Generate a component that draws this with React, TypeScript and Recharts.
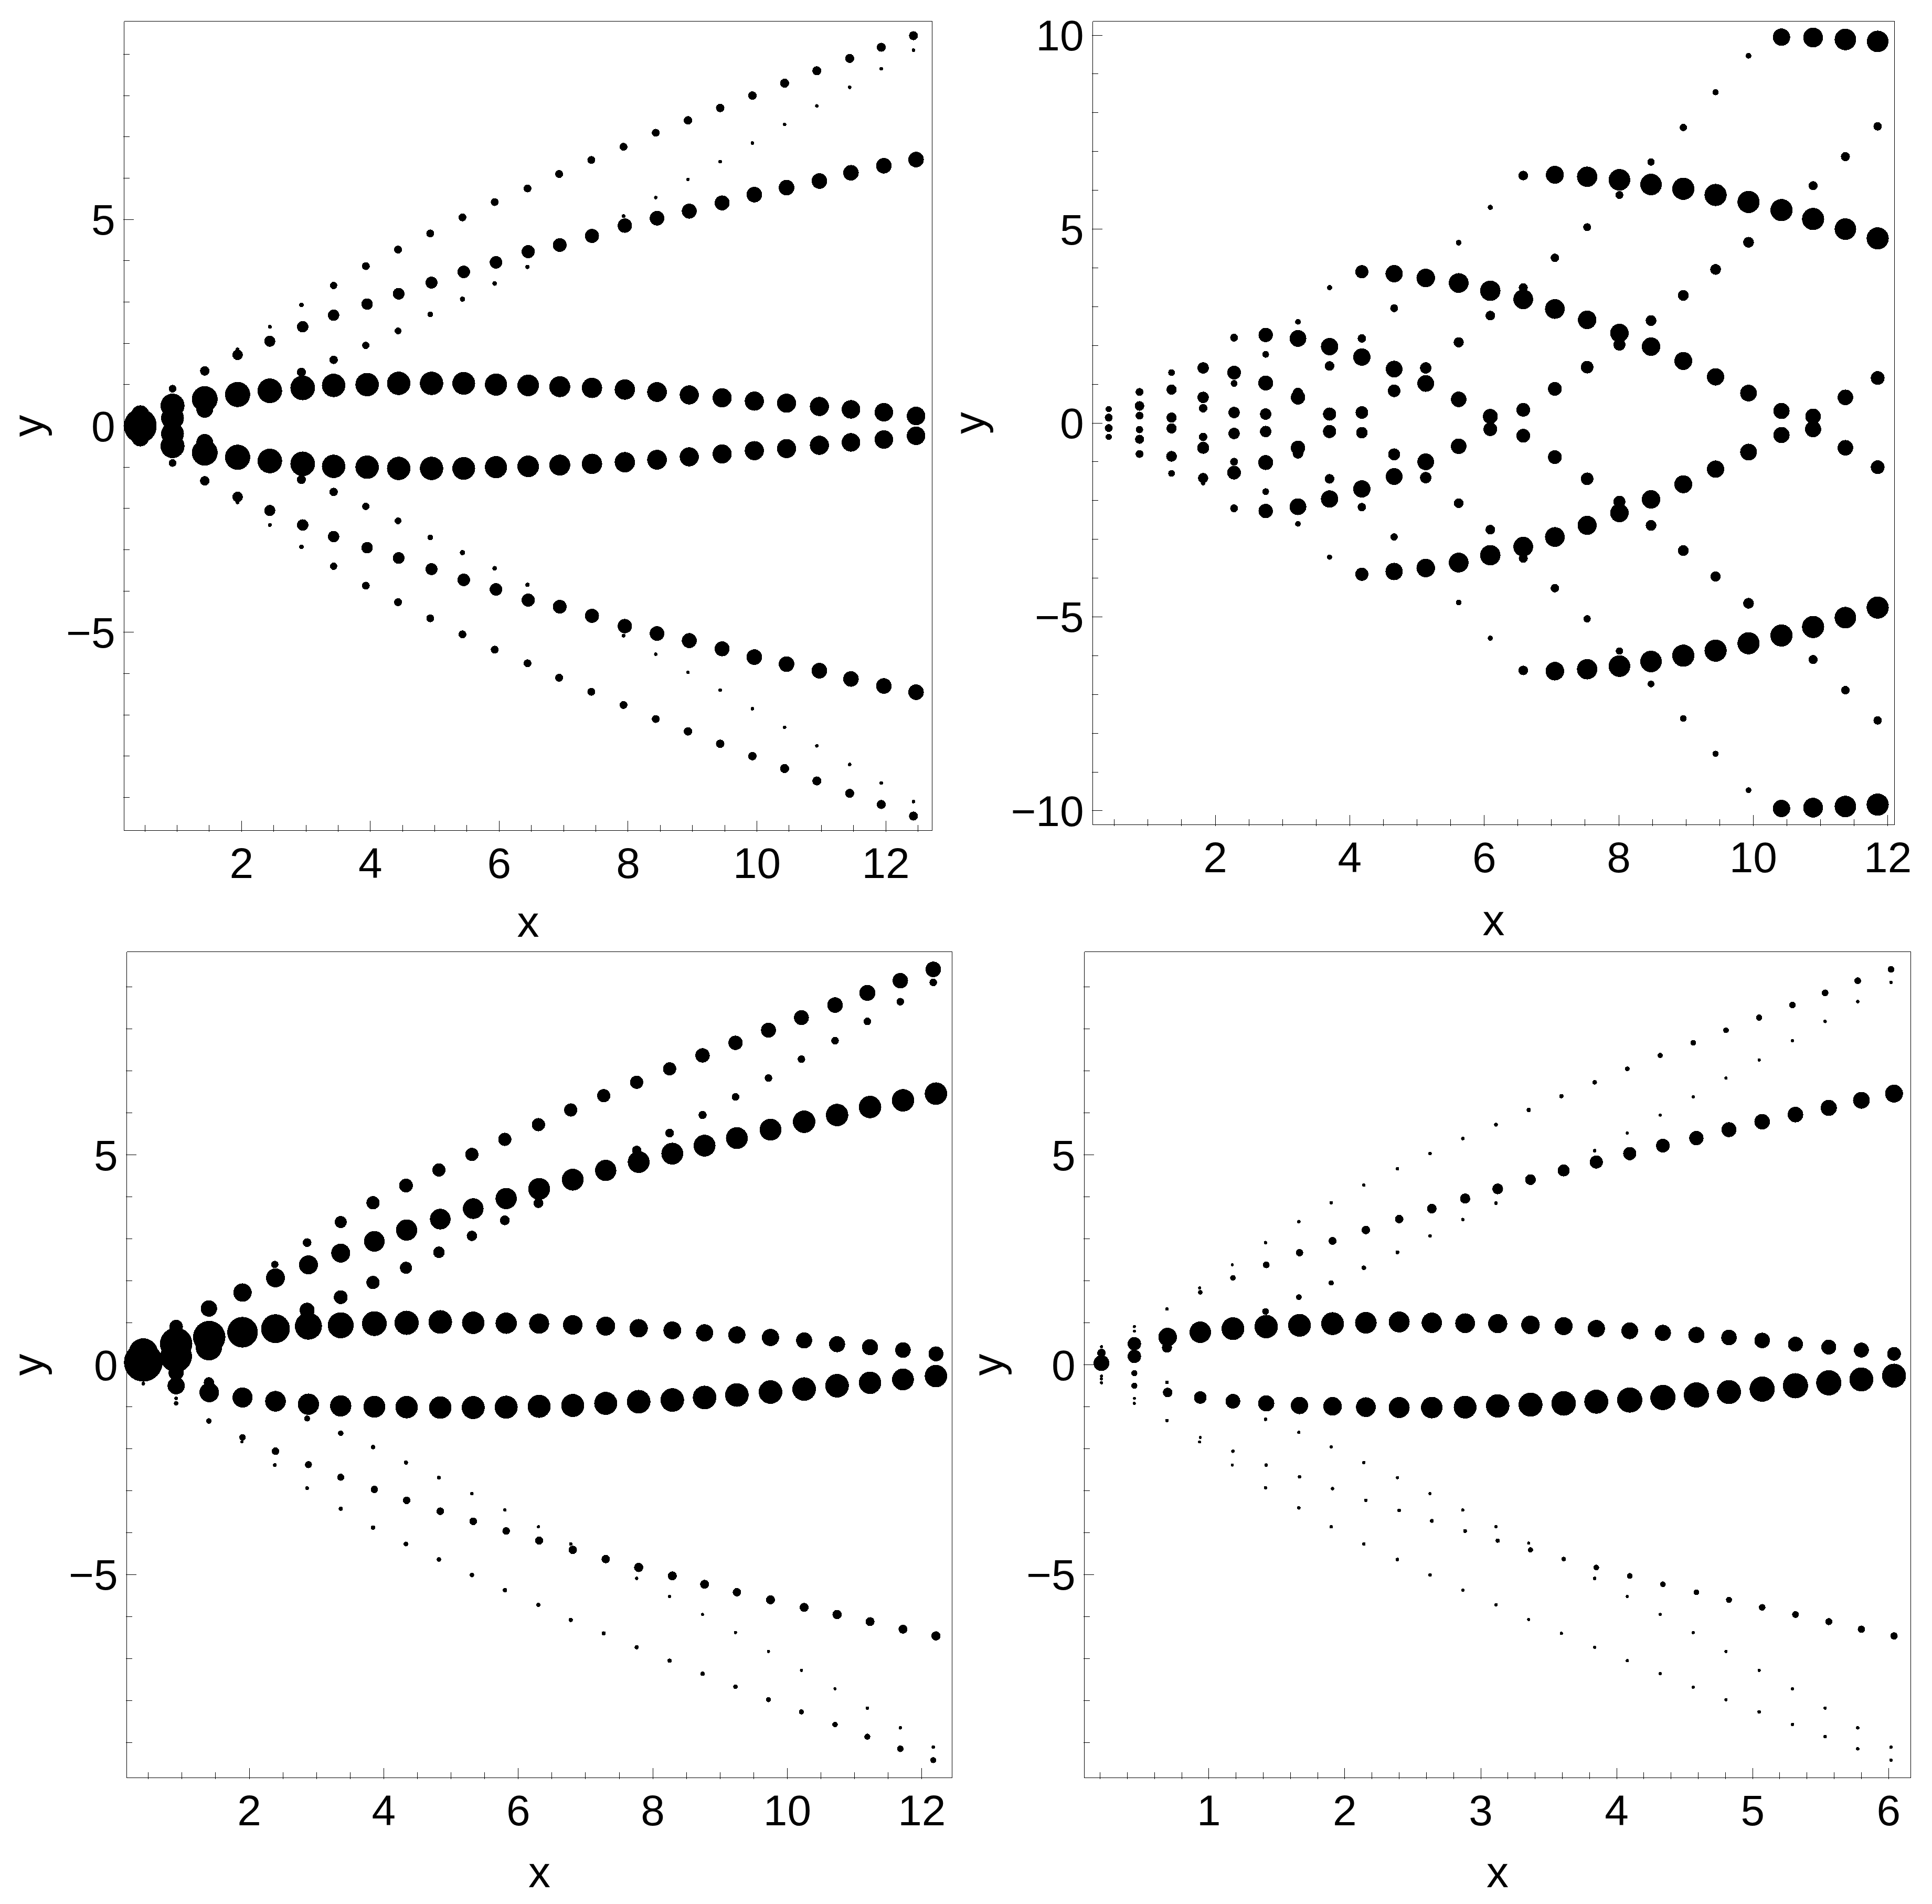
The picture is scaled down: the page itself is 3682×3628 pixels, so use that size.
import { ScatterChart, Scatter, XAxis, YAxis, ZAxis, Label } from "recharts";

type Num = number | null;
type Point = { x: number; y: number; z: number };

const FONT = "Liberation Sans, Arial, sans-serif";
const INK = "#000";

// ---- tick lists ----
const xTicksHalf = [0.5, 1, 1.5, 2, 2.5, 3, 3.5, 4, 4.5, 5, 5.5, 6, 6.5, 7, 7.5, 8, 8.5, 9, 9.5, 10, 10.5, 11, 11.5, 12, 12.5];
const xTicksFifth = [0.2, 0.4, 0.6, 0.8, 1, 1.2, 1.4, 1.6, 1.8, 2, 2.2, 2.4, 2.6, 2.8, 3, 3.2, 3.4, 3.6, 3.8, 4, 4.2, 4.4, 4.6, 4.8, 5, 5.2, 5.4, 5.6, 5.8, 6];
const xLabelsEven = [2, 4, 6, 8, 10, 12];
const xLabelsWhole = [1, 2, 3, 4, 5, 6];
const yTicks9 = [-9, -8, -7, -6, -5, -4, -3, -2, -1, 0, 1, 2, 3, 4, 5, 6, 7, 8, 9];
const yTicks10 = [-10, -9, -8, -7, -6, -5, -4, -3, -2, -1, 0, 1, 2, 3, 4, 5, 6, 7, 8, 9, 10];
const yLabels5 = [-5, 0, 5];
const yLabels10 = [-10, -5, 0, 5, 10];

// ---- panel 1 (top left) ----
const p1XInner = [0.43, 0.93, 1.43, 1.94, 2.44, 2.95, 3.43, 3.95, 4.44, 4.95, 5.45, 5.95, 6.45, 6.94, 7.44, 7.95, 8.45, 8.95, 9.46, 9.96, 10.46, 10.97, 11.46, 11.97, 12.47];
const p1XOuter = [0.43, 0.93, 1.43, 1.94, 2.44, 2.93, 3.43, 3.93, 4.43, 4.93, 5.43, 5.93, 6.44, 6.93, 7.43, 7.93, 8.43, 8.93, 9.43, 9.93, 10.43, 10.93, 11.44, 11.93, 12.43];
const p1CoreUp = [0.02, 0.49, 0.65, 0.76, 0.85, 0.92, 0.98, 1.0, 1.03, 1.03, 1.03, 1.0, 0.98, 0.95, 0.92, 0.88, 0.82, 0.75, 0.68, 0.6, 0.55, 0.47, 0.4, 0.33, 0.24];
const p1CoreLow = [-0.02, -0.49, -0.65, -0.76, -0.85, -0.92, -0.98, -1.0, -1.03, -1.03, -1.03, -1.0, -0.98, -0.95, -0.92, -0.88, -0.82, -0.75, -0.68, -0.6, -0.55, -0.47, -0.4, -0.33, -0.24];
const p1CoreAmp = [53, 39, 42, 41, 40, 40, 38, 38, 38, 38, 37, 36, 35, 34, 33, 33, 32, 31, 31, 31, 31, 31, 30, 30, 30];
const p1MidUp = [null, null, null, 1.72, 2.05, 2.4, 2.68, 2.95, 3.2, 3.47, 3.73, 3.96, 4.22, 4.38, 4.6, 4.85, 5.03, 5.2, 5.4, 5.6, 5.77, 5.93, 6.13, 6.3, 6.45];
const p1MidLow = [null, null, null, -1.72, -2.05, -2.4, -2.68, -2.95, -3.2, -3.47, -3.73, -3.96, -4.22, -4.38, -4.6, -4.85, -5.03, -5.2, -5.4, -5.6, -5.77, -5.93, -6.13, -6.3, -6.45];
const p1MidAmp = [null, null, null, 16.5, 17.5, 18, 18, 18, 18.5, 19, 20, 20, 21, 22, 22.5, 23, 23.5, 24, 24, 25, 25, 25, 25, 25, 25];
const p1RiseUp = [0.28, 0.19, 0.4, null, null, 1.3, 1.6, 1.95, 2.3, 2.7, 3.07, 3.45, 3.85, 4.3, null, 5.08, 5.53, 5.97, 6.4, 6.85, 7.3, 7.75, 8.2, 8.65, 9.1];
const p1RiseLow = [-0.28, -0.19, -0.4, null, null, -1.3, -1.6, -1.95, -2.3, -2.7, -3.07, -3.45, -3.85, -4.3, null, -5.08, -5.53, -5.97, -6.4, -6.85, -7.3, -7.75, -8.2, -8.65, -9.1];
const p1RiseAmp = [29, 37, 27, null, null, 14, 13, 11, 10, 8, 7, 6, 5, 4, null, 4, 3, 3, 3, 3, 3, 3, 3, 3, 3];
const p1EdgeUp = [null, 0.9, 1.33, 1.85, 2.4, 2.93, 3.4, 3.87, 4.27, 4.66, 5.05, 5.42, 5.75, 6.1, 6.44, 6.76, 7.1, 7.4, 7.7, 8, 8.3, 8.6, 8.9, 9.17, 9.45];
const p1EdgeLow = [null, -0.9, -1.33, -1.85, -2.4, -2.93, -3.4, -3.87, -4.27, -4.66, -5.05, -5.42, -5.75, -6.1, -6.44, -6.76, -7.1, -7.4, -7.7, -8, -8.3, -8.6, -8.9, -9.17, -9.45];
const p1EdgeAmp = [null, 11.6, 14.7, 4, 4, 6, 11, 12, 12, 12, 12, 12, 12, 12, 12, 12, 12, 13, 13, 13, 14, 14, 14, 14, 14];

// ---- panel 2 (top right), one line per column, top to bottom ----
const p2X = [0.416, 0.874, 1.35, 1.82, 2.28, 2.75, 3.23, 3.7, 4.18, 4.66, 5.13, 5.62, 6.09, 6.58, 7.05, 7.53, 8.01, 8.48, 8.96, 9.44, 9.93, 10.42, 10.89, 11.37, 11.85];
const p2Y: number[][] = [
  [0.36, 0.14, -0.13, -0.36],
  [0.8, 0.44, 0.19, -0.17, -0.42, -0.8],
  [1.3, 0.86, 0.14, -0.14, -0.86, -1.3],
  [1.5, 1.42, 0.66, 0.38, -0.36, -0.64, -1.42, -1.55],
  [2.2, 1.3, 1.02, 0.27, -0.27, -1.0, -1.28, -2.2],
  [2.27, 1.77, 1.03, 0.23, -0.22, -1.02, -1.77, -2.27],
  [2.61, 2.18, 0.77, 0.66, -0.64, -0.78, -2.16, -2.6],
  [3.49, 1.97, 1.47, 0.23, -0.22, -1.44, -1.96, -3.46],
  [3.9, 2.18, 1.7, 0.27, -0.25, -1.7, -2.17, -3.9],
  [3.85, 2.96, 1.39, 0.83, -0.81, -1.38, -2.94, -3.83],
  [3.74, 1.42, 1.02, -1.0, -1.41, -3.74],
  [4.65, 3.61, 2.08, 0.61, -0.6, -2.07, -3.6, -4.63],
  [5.56, 3.41, 2.77, 0.17, -0.16, -2.75, -3.41, -5.55],
  [6.38, 3.49, 3.19, 0.34, -0.33, -3.19, -3.49, -6.38],
  [6.4, 4.26, 2.94, 0.88, -0.88, -2.94, -4.26, -6.4],
  [6.35, 5.05, 2.66, 1.44, -1.44, -2.64, -5.05, -6.35],
  [6.27, 5.88, 2.32, 2.02, -2.03, -2.32, -5.88, -6.27],
  [6.73, 6.15, 2.64, 1.97, -1.97, -2.64, -6.15, -6.73],
  [7.62, 6.04, 3.29, 1.6, -1.58, -3.29, -6.0, -7.62],
  [8.53, 5.88, 3.96, 1.19, -1.19, -3.96, -5.87, -8.53],
  [9.47, 5.7, 4.66, 0.77, -0.75, -4.65, -5.68, -9.47],
  [9.95, 5.49, 0.31, -0.31, -5.48, -9.94],
  [9.94, 6.12, 5.26, 0.17, -0.16, -5.26, -6.1, -9.92],
  [9.89, 6.87, 5.0, 0.66, -0.64, -5.02, -6.89, -9.89],
  [9.84, 7.65, 4.76, 1.16, -1.14, -4.76, -7.67, -9.84],
];
const p2Amp: number[][] = [
  [9, 12, 12, 9],
  [12, 15, 12, 11, 14, 12],
  [10, 16, 16, 16, 17, 10],
  [6, 18, 18, 13, 13, 19, 16, 6],
  [12, 22, 10, 18, 18, 12, 22, 12],
  [23, 10, 24, 18, 18, 24, 10, 23],
  [8, 27, 17, 23, 23, 17, 27, 8],
  [7, 28, 15, 21, 21, 15, 28, 7],
  [21, 13, 28, 20, 18, 28, 13, 21],
  [28, 12, 27, 20, 19, 27, 11, 28],
  [30, 18, 27, 27, 18, 30],
  [8, 32, 16, 25, 25, 15, 32, 8],
  [7, 33, 15, 24, 22, 15, 33, 7],
  [15, 14, 32, 22, 22, 32, 14, 15],
  [29, 13, 32, 22, 22, 32, 13, 30],
  [33, 12, 30, 20, 20, 31, 11, 33],
  [35, 12, 30, 19, 19, 30, 11, 35],
  [11, 35, 17, 30, 30, 17, 35, 10],
  [11, 36, 17, 29, 29, 17, 36, 10],
  [9, 36, 17, 28, 28, 16, 36, 9],
  [8, 36, 17, 27, 27, 17, 36, 8],
  [28, 36, 26, 26, 36, 28],
  [32, 14, 36, 25, 26, 36, 14, 32],
  [35, 14, 35, 25, 25, 35, 13, 35],
  [35, 13, 36, 22, 22, 36, 13, 36],
];

// ---- panel 3 (bottom left) ----
const p3XInner = [0.425, 0.913, 1.405, 1.9, 2.39, 2.88, 3.36, 3.86, 4.34, 4.84, 5.33, 5.82, 6.31, 6.81, 7.3, 7.79, 8.29, 8.77, 9.25, 9.75, 10.25, 10.74, 11.23, 11.72, 12.21];
const p3XOuter = [0.425, 0.913, 1.4, 1.89, 2.38, 2.86, 3.36, 3.84, 4.33, 4.82, 5.31, 5.8, 6.3, 6.78, 7.27, 7.76, 8.25, 8.74, 9.23, 9.72, 10.21, 10.71, 11.19, 11.68, 12.17];
const p3CoreUp = [0.06, 0.5, 0.66, 0.775, 0.86, 0.92, 0.94, 0.98, 1.0, 1.02, 1.0, 0.99, 0.98, 0.95, 0.92, 0.87, 0.82, 0.76, 0.71, 0.65, 0.58, 0.49, 0.42, 0.35, 0.26];
const p3CoreUpAmp = [66, 55, 55, 52, 49, 46, 44, 42, 41, 40, 38, 36, 34, 33, 32, 31, 30, 29, 29, 29, 27, 27, 27, 26, 25];
const p3CoreLow = [null, -0.5, -0.66, -0.78, -0.87, -0.94, -0.98, -1.0, -1.01, -1.02, -1.02, -1.01, -0.99, -0.97, -0.92, -0.88, -0.84, -0.78, -0.72, -0.65, -0.58, -0.5, -0.43, -0.35, -0.27];
const p3CoreLowAmp = [null, 29, 33, 34, 35, 36, 36, 37, 38, 38, 39, 39, 39, 39, 39, 40, 40, 40, 40, 40, 40, 40, 38, 37, 38];
const p3MidUp = [null, null, null, 1.72, 2.07, 2.38, 2.66, 2.94, 3.21, 3.47, 3.72, 3.96, 4.19, 4.41, 4.63, 4.83, 5.03, 5.22, 5.4, 5.6, 5.79, 5.95, 6.14, 6.3, 6.46];
const p3MidUpAmp = [null, null, null, 31, 32, 32, 32, 35, 36, 35, 35, 36, 37, 37, 36, 37, 37, 37, 37, 37, 38, 38, 38, 38, 38];
const p3MidLow = [null, -0.8, null, -1.73, -2.06, -2.38, -2.68, -2.97, -3.23, -3.49, -3.73, -3.96, -4.19, -4.41, -4.63, -4.83, -5.03, -5.23, -5.42, -5.6, -5.78, -5.95, -6.12, -6.3, -6.46];
const p3MidLowAmp = [null, 3.3, null, 10, 12, 11, 11, 11.5, 12, 12, 12, 12, 13, 13.5, 13.5, 15, 14.5, 14.5, 13.5, 14.5, 14.5, 15, 14.5, 14.5, 15];
const p3RiseUp = [0.28, 0.2, 0.42, null, null, 1.3, 1.61, 1.96, 2.31, 2.68, 3.07, 3.44, 3.85, null, null, 5.11, 5.52, 5.95, 6.38, 6.83, 7.28, 7.72, 8.18, 8.65, 9.11];
const p3RiseUpAmp = [50, 54, 45, null, null, 25, 23, 22, 20, 19, 17, 16, 16, null, null, 15, 14, 13, 12, 12, 12, 12, 12, 12, 12];
const p3RiseLow = [null, -0.19, -0.42, null, null, -1.28, -1.63, -1.96, -2.33, -2.69, -3.07, -3.46, -3.86, -4.27, null, -5.09, -5.52, -5.95, -6.38, -6.83, -7.28, -7.72, -8.18, -8.65, -9.11];
const p3RiseLowAmp = [null, 25.5, 17, null, null, 9, 8, 6, 5, 4, 3, 3, 2, 3, null, 3, 2, 2, 2, 2, 2, 2, 3, 3, 3];
const p3EdgeUp = [null, 0.91, 1.34, 1.83, 2.39, 2.91, 3.4, 3.86, 4.27, 4.64, 5.01, 5.37, 5.72, 6.07, 6.41, 6.73, 7.05, 7.37, 7.67, 7.97, 8.27, 8.57, 8.86, 9.15, 9.42];
const p3EdgeUpAmp = [null, 22.5, 27.5, 8, 11.6, 14, 20, 22, 23, 22, 22, 22, 22, 22, 22, 22, 22, 24, 24, 25, 25, 26, 27, 26, 26];
const p3EdgeLow = [-0.45, -0.92, -1.34, -1.84, -2.39, -2.94, -3.43, -3.88, -4.27, -4.64, -5.01, -5.37, -5.72, -6.08, -6.4, -6.73, -7.05, -7.36, -7.67, -7.98, -8.27, -8.57, -8.86, -9.15, -9.42];
const p3EdgeLowAmp = [3.3, 6.2, 8, 1, 4, 4, 5, 6, 6.5, 6, 6, 6, 5, 5, 5, 5, 5, 6, 6, 7, 7, 8, 9, 10, 9];

// ---- panel 4 (bottom right) ----
const p4XInner = [0.21, 0.452, 0.697, 0.937, 1.177, 1.422, 1.667, 1.91, 2.155, 2.4, 2.64, 2.885, 3.125, 3.366, 3.61, 3.85, 4.096, 4.34, 4.586, 4.826, 5.07, 5.315, 5.56, 5.8, 6.04];
const p4XOuter = [0.21, 0.452, 0.692, 0.932, 1.172, 1.417, 1.662, 1.9, 2.14, 2.387, 2.627, 2.868, 3.112, 3.353, 3.593, 3.838, 4.078, 4.32, 4.563, 4.804, 5.048, 5.293, 5.533, 5.773, 6.018];
const p4CoreUp = [0.04, 0.5, 0.66, 0.775, 0.86, 0.91, 0.94, 0.98, 1.0, 1.02, 1.0, 0.99, 0.98, 0.95, 0.92, 0.86, 0.81, 0.76, 0.71, 0.65, 0.58, 0.49, 0.42, 0.35, 0.26];
const p4CoreUpAmp = [25.5, 21.4, 30, 35, 37, 38, 37, 37, 35, 34, 33, 32, 31, 30, 29, 28, 27, 26, 26, 25, 25, 24, 24, 24, 22];
const p4CoreLow = [-0.27, -0.5, -0.66, -0.78, -0.87, -0.92, -0.97, -0.99, -1.01, -1.02, -1.02, -1.01, -0.98, -0.95, -0.92, -0.88, -0.84, -0.78, -0.72, -0.65, -0.58, -0.5, -0.43, -0.35, -0.26];
const p4CoreLowAmp = [1, 8.7, 15, 20, 23.5, 26, 28, 30, 32, 34, 35, 37, 38, 39, 40, 39, 41, 41, 41, 39, 41, 41, 41, 39, 39];
const p4MidUp = [null, 0.91, null, 1.725, 2.07, 2.38, 2.67, 2.95, 3.21, 3.47, 3.72, 3.96, 4.19, 4.41, 4.63, 4.83, 5.03, 5.22, 5.4, 5.6, 5.79, 5.96, 6.12, 6.3, 6.46];
const p4MidUpAmp = [null, 1, null, 5.6, 8, 10, 11, 12, 13, 13, 15, 16, 17, 17, 19, 21, 21, 22, 23, 24, 25, 25, 26, 27, 29];
const p4MidLow = [null, -0.8, null, -1.73, -2.06, -2.39, -2.67, -2.95, -3.23, -3.47, -3.72, -3.96, -4.19, -4.41, -4.63, -4.83, -5.03, -5.23, -5.42, -5.6, -5.78, -5.95, -6.12, -6.3, -6.46];
const p4MidLowAmp = [null, 1, null, 1, 3, 3, 3, 3, 3, 3, 4, 4, 5, 7, 6, 8, 8, 8, 8, 8.7, 9.8, 10, 10.5, 11, 11];
const p4RiseUp = [0.28, 0.2, 0.41, null, null, 1.27, 1.61, 1.95, 2.31, 2.68, 3.07, 3.46, 3.85, null, null, 5.1, 5.52, 5.95, 6.38, 6.83, 7.26, 7.72, 8.18, 8.65, 9.11];
const p4RiseUpAmp = [13, 21.4, 16, null, null, 10, 8, 7, 6, 4, 3, 3, 3, null, null, 3, 2, 2, 2, 2, 2, 2, 3, 3, 3];
const p4RiseLow = [-0.34, -0.2, -0.42, null, null, -1.3, -1.61, -1.96, -2.33, -2.69, -3.07, -3.46, -3.86, -4.25, null, -5.09, -5.52, -5.95, -6.38, -6.83, -7.28, -7.72, -8.18, -8.65, -9.11];
const p4RiseLowAmp = [1, 8.7, 3.3, null, null, 3, 2, 2, 3, 2, 2, 2, 2, 2, null, 3, 2, 2, 2, 2, 2, 2, 2, 3, 3];
const p4EdgeUp = [0.43, 0.8, 1.33, 1.83, 2.38, 2.91, 3.41, 3.86, 4.28, 4.67, 5.03, 5.39, 5.72, 6.07, 6.4, 6.73, 7.05, 7.37, 7.67, 7.97, 8.27, 8.57, 8.86, 9.15, 9.42];
const p4EdgeUpAmp = [1, 1, 3.3, 1, 1, 3, 3, 3, 3, 3, 3, 3, 4, 5, 5, 6, 6, 7, 8, 8, 9, 9.5, 10, 10, 10];
const p4EdgeLow = [-0.43, -0.92, -1.33, -1.84, -2.39, -2.93, -3.41, -3.86, -4.27, -4.64, -5.01, -5.37, -5.72, -6.07, -6.4, -6.73, -7.05, -7.36, -7.68, -7.98, -8.27, -8.57, -8.86, -9.15, -9.42];
const p4EdgeLowAmp = [1, 1, 3.3, 1, 1, 3, 3, 3, 3, 3, 3, 2, 3, 2, 2, 2, 2, 2, 2, 2, 3, 3, 3, 3, 3];

function branch(xs: number[], ys: Num[], amps: Num[]): Point[] {
  const out: Point[] = [];
  ys.forEach((y, i) => {
    if (y !== null) out.push({ x: xs[i], y, z: (amps[i] as number) * (amps[i] as number) });
  });
  return out;
}

function columns(xs: number[], ys: number[][], amps: number[][]): Point[] {
  return xs.flatMap((x, i) => ys[i].map((y, j) => ({ x, y, z: amps[i][j] * amps[i][j] })));
}

const p1Series = [
  branch(p1XInner, p1CoreUp, p1CoreAmp), branch(p1XInner, p1CoreLow, p1CoreAmp),
  branch(p1XInner, p1MidUp, p1MidAmp), branch(p1XInner, p1MidLow, p1MidAmp),
  branch(p1XOuter, p1RiseUp, p1RiseAmp), branch(p1XOuter, p1RiseLow, p1RiseAmp),
  branch(p1XOuter, p1EdgeUp, p1EdgeAmp), branch(p1XOuter, p1EdgeLow, p1EdgeAmp),
];
const p2Series = [columns(p2X, p2Y, p2Amp)];
const p3Series = [
  branch(p3XInner, p3CoreUp, p3CoreUpAmp), branch(p3XInner, p3CoreLow, p3CoreLowAmp),
  branch(p3XInner, p3MidUp, p3MidUpAmp), branch(p3XInner, p3MidLow, p3MidLowAmp),
  branch(p3XOuter, p3RiseUp, p3RiseUpAmp), branch(p3XOuter, p3RiseLow, p3RiseLowAmp),
  branch(p3XOuter, p3EdgeUp, p3EdgeUpAmp), branch(p3XOuter, p3EdgeLow, p3EdgeLowAmp),
];
const p4Series = [
  branch(p4XInner, p4CoreUp, p4CoreUpAmp), branch(p4XInner, p4CoreLow, p4CoreLowAmp),
  branch(p4XInner, p4MidUp, p4MidUpAmp), branch(p4XInner, p4MidLow, p4MidLowAmp),
  branch(p4XOuter, p4RiseUp, p4RiseUpAmp), branch(p4XOuter, p4RiseLow, p4RiseLowAmp),
  branch(p4XOuter, p4EdgeUp, p4EdgeUpAmp), branch(p4XOuter, p4EdgeLow, p4EdgeLowAmp),
];

const MINOR = 12.5;
const MAJOR = 20.5;
const LINE = 1;
const TICK_FONT = 82;
const TITLE_FONT = 84;

const fmt = (v: number) => (v < 0 ? "\u2212" + Math.abs(v) : String(v));

type PanelProps = {
  box: { left: number; top: number; width: number; height: number };
  frame: { left: number; right: number; top: number; bottom: number };
  xDomain: [number, number];
  yDomain: [number, number];
  xTicks: number[];
  xLabels: number[];
  yTicks: number[];
  yLabels: number[];
  xTitleOffset: number;
  yTitleBaseline: number;
  series: Point[][];
};

function Panel({ box, frame, xDomain, yDomain, xTicks, xLabels, yTicks, yLabels, xTitleOffset, yTitleBaseline, series }: PanelProps) {
  const line = { stroke: INK, strokeWidth: LINE };
  const bottomTick = ({ x, y, payload }: any) => {
    const major = xLabels.includes(payload.value);
    return (
      <g>
        <line x1={x} x2={x} y1={y} y2={y - (major ? MAJOR : MINOR)} {...line} />
        {major && (
          <text x={x} y={y + 88} textAnchor="middle" fontFamily={FONT} fontSize={TICK_FONT} fill={INK}>
            {fmt(payload.value)}
          </text>
        )}
      </g>
    );
  };
  const topTick = ({ x, y, payload }: any) => (
    <line x1={x} x2={x} y1={y} y2={y + (xLabels.includes(payload.value) ? MAJOR : MINOR)} {...line} />
  );
  const leftTick = ({ x, y, payload }: any) => {
    const major = yLabels.includes(payload.value);
    return (
      <g>
        <line x1={x} x2={x + (major ? MAJOR : MINOR)} y1={y} y2={y} {...line} />
        {major && (
          <text x={x - 15} y={y + 29} textAnchor="end" fontFamily={FONT} fontSize={TICK_FONT} fill={INK}>
            {fmt(payload.value)}
          </text>
        )}
      </g>
    );
  };
  const rightTick = ({ x, y, payload }: any) => (
    <line x1={x} x2={x - (yLabels.includes(payload.value) ? MAJOR : MINOR)} y1={y} y2={y} {...line} />
  );
  const titleStyle = { fontFamily: FONT, fontSize: TITLE_FONT, fill: INK };
  const yTitle = ({ viewBox }: any) => {
    const cy = viewBox.y + viewBox.height / 2;
    return (
      <text
        x={yTitleBaseline}
        y={cy}
        transform={`rotate(-90 ${yTitleBaseline} ${cy})`}
        textAnchor="middle"
        fontFamily={FONT}
        fontSize={TITLE_FONT}
        fill={INK}
      >
        y
      </text>
    );
  };

  return (
    <div style={{ position: "absolute", left: box.left, top: box.top }}>
      <ScatterChart width={box.width} height={box.height} margin={{ top: 0, right: 0, bottom: 0, left: 0 }}>
        <XAxis
          dataKey="x"
          type="number"
          domain={xDomain}
          ticks={xTicks}
          interval={0}
          tick={bottomTick}
          tickSize={0}
          tickLine={false}
          axisLine={line}
          height={box.top + box.height - frame.bottom}
        >
          <Label value="x" position="insideBottom" offset={xTitleOffset} style={titleStyle} />
        </XAxis>
        <XAxis
          xAxisId="top"
          orientation="top"
          type="number"
          domain={xDomain}
          ticks={xTicks}
          interval={0}
          tick={topTick}
          tickSize={0}
          tickLine={false}
          axisLine={line}
          height={frame.top - box.top}
        />
        <YAxis
          dataKey="y"
          type="number"
          domain={yDomain}
          ticks={yTicks}
          interval={0}
          tick={leftTick}
          tickSize={0}
          tickLine={false}
          axisLine={line}
          width={frame.left - box.left}
        >
          <Label content={yTitle} />
        </YAxis>
        <YAxis
          yAxisId="right"
          orientation="right"
          type="number"
          domain={yDomain}
          ticks={yTicks}
          interval={0}
          tick={rightTick}
          tickSize={0}
          tickLine={false}
          axisLine={line}
          width={box.left + box.width - frame.right}
        />
        <ZAxis dataKey="z" type="number" domain={[0, 4000]} range={[25, 4289]} />
        {series.map((data, i) => (
          <Scatter key={i} data={data} fill={INK} isAnimationActive={false} />
        ))}
      </ScatterChart>
    </div>
  );
}

export default function App() {
  return (
    <div
      style={{
        position: "absolute",
        left: 0,
        top: 0,
        width: 3682,
        height: 3628,
        background: "#fff",
        overflow: "hidden",
        shapeRendering: "crispEdges",
      }}
    >
      <Panel
        box={{ left: 0, top: 0, width: 1841, height: 1810 }}
        frame={{ left: 236.5, right: 1776.5, top: 40.5, bottom: 1582.5 }}
        xDomain={[0.178, 12.72]}
        yDomain={[-9.8, 9.8]}
        xTicks={xTicksHalf}
        xLabels={xLabelsEven}
        yTicks={yTicks9}
        yLabels={yLabels5}
        xTitleOffset={25}
        yTitleBaseline={82}
        series={p1Series}
      />
      <Panel
        box={{ left: 1780, top: 0, width: 1902, height: 1810 }}
        frame={{ left: 2082.5, right: 3610.5, top: 40.5, bottom: 1571.5 }}
        xDomain={[0.178, 12.1]}
        yDomain={[-10.36, 10.36]}
        xTicks={xTicksHalf.slice(0, 24)}
        xLabels={xLabelsEven}
        yTicks={yTicks10}
        yLabels={yLabels10}
        xTitleOffset={28}
        yTitleBaseline={96}
        series={p2Series}
      />
      <Panel
        box={{ left: 0, top: 1790, width: 1841, height: 1838 }}
        frame={{ left: 241.5, right: 1814.5, top: 1813.5, bottom: 3387.5 }}
        xDomain={[0.178, 12.45]}
        yDomain={[-9.84, 9.84]}
        xTicks={xTicksHalf.slice(0, 24)}
        xLabels={xLabelsEven}
        yTicks={yTicks9}
        yLabels={yLabels5}
        xTitleOffset={32}
        yTitleBaseline={82}
        series={p3Series}
      />
      <Panel
        box={{ left: 1780, top: 1790, width: 1902, height: 1838 }}
        frame={{ left: 2066.5, right: 3641.5, top: 1813.5, bottom: 3387.5 }}
        xDomain={[0.084, 6.163]}
        yDomain={[-9.84, 9.84]}
        xTicks={xTicksFifth}
        xLabels={xLabelsWhole}
        yTicks={yTicks9}
        yLabels={yLabels5}
        xTitleOffset={32}
        yTitleBaseline={131}
        series={p4Series}
      />
    </div>
  );
}
